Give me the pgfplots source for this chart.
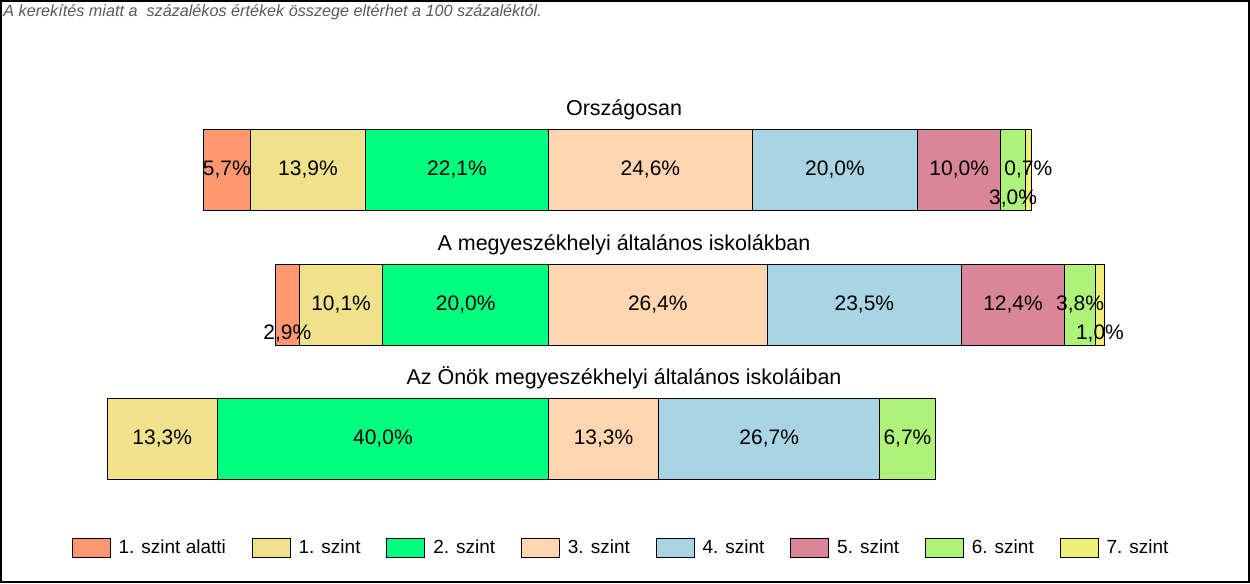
\documentclass[border=0pt]{standalone}
\usepackage{pgfplots}
\usepackage{pgfplotstable}
\pgfplotsset{compat=1.18}
\usepackage{fontspec}
\setmainfont{Liberation Sans}

% szintek szinei
\definecolor{c0}{RGB}{255,152,112}
\definecolor{c1}{RGB}{240,226,138}
\definecolor{c2}{RGB}{0,255,127}
\definecolor{c3}{RGB}{255,214,176}
\definecolor{c4}{RGB}{168,212,228}
\definecolor{c5}{RGB}{217,135,152}
\definecolor{c6}{RGB}{173,243,122}
\definecolor{c7}{RGB}{240,240,120}

% y: sor helye, off: eltolas (a 2. es 3. szint hatara x=60-nal van)
\pgfplotstableread{
y     off   l0   l1   l2   l3   l4   l5   l6   l7
413.3 18.3  5.7  13.9 22.1 24.6 20.0 10.0 3.0  0.7
278.3 27.0  2.9  10.1 20.0 26.4 23.5 12.4 3.8  1.0
144.3 6.7   0.0  13.3 40.0 13.3 26.7 0.0  6.7  0.0
}\bars

% feliratok: szakasz kozepe, sor, ertek
\pgfplotstableread{
x      y     v
21.15  413.3 5.7
30.95  413.3 13.9
48.95  413.3 22.1
72.3   413.3 24.6
94.6   413.3 20.0
109.6  413.3 10.0
116.1  384.3 3.0
117.95 413.3 0.7
28.45  249.3 2.9
34.95  278.3 10.1
50.0   278.3 20.0
73.2   278.3 26.4
98.15  278.3 23.5
116.1  278.3 12.4
124.2  278.3 3.8
126.6  249.3 1.0
13.35  144.3 13.3
40.0   144.3 40.0
66.65  144.3 13.3
86.65  144.3 26.7
103.35 144.3 6.7
}\labs

\pgfplotsset{
  base/.style={scale only axis, width=625pt, height=291.5pt,
    xmin=-6.244, xmax=144.722, ymin=0, ymax=583, hide axis, clip=false},
  seg/.style={fill=#1, draw=black, line width=0.5pt}
}

\begin{document}
\begin{tikzpicture}
\begin{axis}[base, xbar stacked, bar width=81]
  \addplot[draw=none, fill=none] table[x=off, y=y] {\bars};
  \addplot[seg=c0] table[x=l0, y=y] {\bars};
  \addplot[seg=c1] table[x=l1, y=y] {\bars};
  \addplot[seg=c2] table[x=l2, y=y] {\bars};
  \addplot[seg=c3] table[x=l3, y=y] {\bars};
  \addplot[seg=c4] table[x=l4, y=y] {\bars};
  \addplot[seg=c5] table[x=l5, y=y] {\bars};
  \addplot[seg=c6] table[x=l6, y=y] {\bars};
  \addplot[seg=c7] table[x=l7, y=y] {\bars};
\end{axis}
\begin{axis}[base,
    legend image code/.code={\draw[#1] (0pt,-4.75pt) rectangle (19pt,4.75pt);},
    legend columns=8,
    legend style={at={(0.496,0.06)}, anchor=center, draw=none, fill=none,
      font=\fontsize{9.5}{11}\selectfont, inner sep=0pt, column sep=4pt,
      nodes={inner sep=0pt}, cells={anchor=west},
      /tikz/every even column/.append style={column sep=12.85pt}}
  ]
  \addplot[forget plot, only marks, mark=none, point meta=explicit,
    nodes near coords={\pgfmathprintnumber[fixed, fixed zerofill, precision=1, use comma, assume math mode=true]{\pgfplotspointmeta}\%},
    every node near coord/.style={anchor=center, inner sep=0pt, font=\fontsize{10.5}{12}\selectfont}]
    table[x=x, y=y, meta=v] {\labs};
  \addlegendimage{seg=c0}
  \addlegendimage{seg=c1}
  \addlegendimage{seg=c2}
  \addlegendimage{seg=c3}
  \addlegendimage{seg=c4}
  \addlegendimage{seg=c5}
  \addlegendimage{seg=c6}
  \addlegendimage{seg=c7}
  \legend{1. szint alatti, 1. szint, 2. szint, 3. szint, 4. szint, 5. szint, 6. szint, 7. szint}
  \node[anchor=base, font=\fontsize{10.75}{13}\selectfont] at (axis cs:69.12,467.3) {Országosan};
  \node[anchor=base, font=\fontsize{10.75}{13}\selectfont] at (axis cs:69.12,332.3) {A megyeszékhelyi általános iskolákban};
  \node[anchor=base, font=\fontsize{10.75}{13}\selectfont] at (axis cs:69.12,198.3) {Az Önök megyeszékhelyi általános iskoláiban};
  \node[anchor=base west, inner sep=0pt, text=black!65, font=\itshape\fontsize{8.1}{10}\selectfont] at (axis cs:-5.88,566) {A kerekítés miatt a\ \ százalékos értékek összege eltérhet a 100 százaléktól.};
  \draw[line width=1pt] ([shift={(0.5pt,0.5pt)}]rel axis cs:0,0) rectangle ([shift={(-0.5pt,-0.5pt)}]rel axis cs:1,1);
\end{axis}
\end{tikzpicture}
\end{document}
